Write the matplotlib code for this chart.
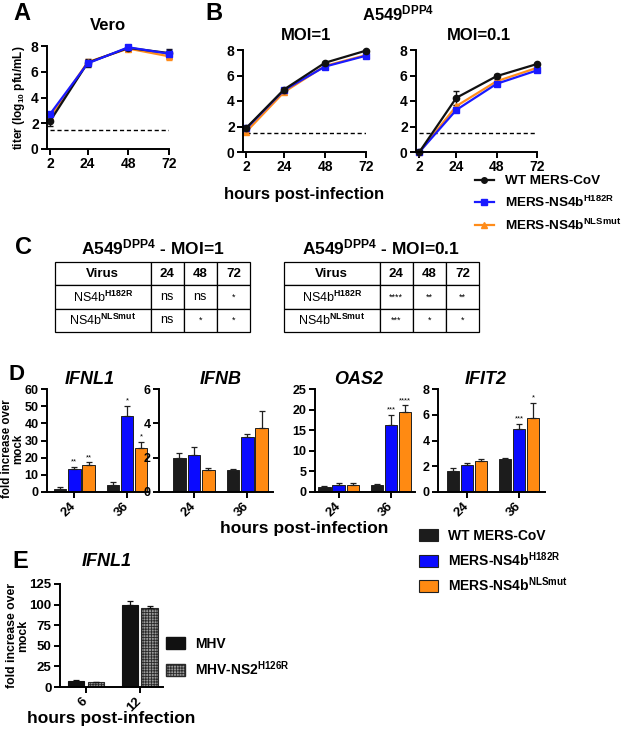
import matplotlib
matplotlib.use('Agg')
import matplotlib.pyplot as plt
import numpy as np
from matplotlib.lines import Line2D
from matplotlib.patches import Patch

plt.rcParams['font.family'] = ['Liberation Sans', 'DejaVu Sans']
plt.rcParams['font.weight'] = 'bold'
plt.rcParams['mathtext.fontset'] = 'custom'
plt.rcParams['mathtext.rm'] = 'Liberation Sans'
plt.rcParams['mathtext.bf'] = 'Liberation Sans:bold'
plt.rcParams['mathtext.it'] = 'Liberation Sans:italic'
plt.rcParams['hatch.linewidth'] = 0.6

# ---------------- data ----------------
hours = [2, 24, 48, 72]
lod = 1.48
series_names = ['WT MERS-CoV', r'MERS-NS4b$^{\mathbf{H182R}}$', r'MERS-NS4b$^{\mathbf{NLSmut}}$']

vero_wt = [2.2, 6.7, 7.85, 7.45]
vero_wt_err = [0.45, 0.3, 0.2, 0.3]
vero_h182r = [2.75, 6.65, 7.9, 7.4]
vero_h182r_err = [0.15, 0.2, 0.15, 0.3]
vero_nls = [2.5, 6.75, 7.8, 7.2]
vero_nls_err = [0.2, 0.25, 0.15, 0.25]

moi1_wt = [1.9, 4.9, 7.0, 7.95]
moi1_wt_err = [0.1, 0.1, 0.08, 0.05]
moi1_h182r = [1.85, 4.85, 6.7, 7.55]
moi1_h182r_err = [0.05, 0.08, 0.08, 0.05]
moi1_nls = [1.6, 4.7, 6.75, 7.6]
moi1_nls_err = [0.05, 0.08, 0.08, 0.05]

moi01_wt = [0.0, 4.25, 5.95, 6.9]
moi01_wt_err = [0.0, 0.55, 0.2, 0.05]
moi01_h182r = [0.0, 3.3, 5.35, 6.4]
moi01_h182r_err = [0.0, 0.1, 0.08, 0.05]
moi01_nls = [0.0, 3.6, 5.55, 6.6]
moi01_nls_err = [0.0, 0.1, 0.08, 0.05]

table_header = ['Virus', '24', '48', '72']
table_viruses = [r'NS4b$^{\mathrm{H182R}}$', r'NS4b$^{\mathrm{NLSmut}}$']
table_moi1 = [['ns', 'ns', '*'], ['ns', '*', '*']]
table_moi01 = [['****', '**', '**'], ['***', '*', '*']]

bar_groups = ['24', '36']
genes = ['IFNL1', 'IFNB', 'OAS2', 'IFIT2']
# per gene: [WT, H182R, NLSmut] x [24h, 36h]
gene_vals = {
    'IFNL1': [[2.0, 4.3], [13.2, 44.5], [16.0, 25.5]],
    'IFNB': [[2.0, 1.27], [2.15, 3.2], [1.28, 3.7]],
    'OAS2': [[1.2, 1.7], [1.6, 16.3], [1.7, 19.4]],
    'IFIT2': [[1.6, 2.58], [2.1, 4.9], [2.4, 5.75]],
}
gene_errs = {
    'IFNL1': [[1.0, 1.6], [1.2, 5.5], [1.2, 3.5]],
    'IFNB': [[0.25, 0.08], [0.5, 0.15], [0.14, 1.0]],
    'OAS2': [[0.2, 0.2], [0.5, 2.5], [0.4, 1.6]],
    'IFIT2': [[0.25, 0.05], [0.15, 0.35], [0.2, 1.2]],
}
gene_stars = {
    'IFNL1': [['', ''], ['**', '*'], ['**', '*']],
    'IFNB': [['', ''], ['', ''], ['', '']],
    'OAS2': [['', ''], ['', '***'], ['', '****']],
    'IFIT2': [['', ''], ['', '***'], ['', '*']],
}
gene_ylim = {'IFNL1': 60, 'IFNB': 6, 'OAS2': 25, 'IFIT2': 8}
gene_ystep = {'IFNL1': 10, 'IFNB': 2, 'OAS2': 5, 'IFIT2': 2}

mhv_groups = ['6', '12']
mhv_names = ['MHV', r'MHV-NS2$^{\mathbf{H126R}}$']
mhv_wt = [7.5, 100.0]
mhv_wt_err = [0.5, 4.0]
mhv_ns2 = [5.5, 95.5]
mhv_ns2_err = [0.8, 3.0]

# ---------------- style ----------------
C_BLACK = '#111111'
C_BLUE = '#1a1aff'
C_ORANGE = '#ff8c1a'
BAR_COLORS = ['#1c1c1c', '#0a0aff', '#ff8a12']

W, H = 625, 729
fig = plt.figure(figsize=(6.25, 7.29), dpi=100)


def add_ax(x0, x1, ytop, ybot):
    return fig.add_axes([x0 / W, 1 - ybot / H, (x1 - x0) / W, (ybot - ytop) / H])


def ftext(x, y, s, **kw):
    fig.text(x / W, 1 - y / H, s, **kw)


def style(ax, labelsize=10):
    for s in ['top', 'right']:
        ax.spines[s].set_visible(False)
    for s in ['left', 'bottom']:
        ax.spines[s].set_linewidth(1.4)
    ax.tick_params(direction='out', length=4, width=1.4, labelsize=labelsize, pad=2)
    for lab in ax.get_xticklabels() + ax.get_yticklabels():
        lab.set_fontweight('bold')


# ---------------- growth curves ----------------
def growth(ax, data):
    for vals, errs, color, marker in data:
        ax.errorbar(hours, vals, yerr=errs, color=color, marker=marker, ms=4.5,
                    lw=1.6, capsize=2.5, elinewidth=1.0, capthick=1.0, clip_on=False,
                    ecolor=C_BLACK if color == C_BLACK else color)
    ax.hlines(lod, hours[0], hours[-1], colors='k', linestyles=(0, (3, 2)), lw=1.0)
    ax.set_xlim(0, 72)
    ax.set_ylim(0, 8)
    ax.set_xticks(hours)
    ax.set_yticks([0, 2, 4, 6, 8])
    style(ax)


axA = add_ax(47, 169, 46, 149)
growth(axA, [(vero_nls, vero_nls_err, C_ORANGE, '^'),
             (vero_wt, vero_wt_err, C_BLACK, 'o'),
             (vero_h182r, vero_h182r_err, C_BLUE, 's')])
axA.set_ylabel(r'titer (log$_{\mathbf{10}}$ pfu/mL)', fontsize=8.5, fontweight='bold', labelpad=3)

axB1 = add_ax(243, 366, 50, 152)
growth(axB1, [(moi1_nls, moi1_nls_err, C_ORANGE, '^'),
              (moi1_h182r, moi1_h182r_err, C_BLUE, 's'),
              (moi1_wt, moi1_wt_err, C_BLACK, 'o')])

axB2 = add_ax(416, 537, 50, 152)
growth(axB2, [(moi01_nls, moi01_nls_err, C_ORANGE, '^'),
              (moi01_h182r, moi01_h182r_err, C_BLUE, 's'),
              (moi01_wt, moi01_wt_err, C_BLACK, 'o')])

ftext(13, 14, 'A', fontsize=17, fontweight='bold', va='center')
ftext(108, 26, 'Vero', fontsize=12, fontweight='bold', ha='center', va='center')
ftext(205, 14, 'B', fontsize=17, fontweight='bold', va='center')
ftext(398, 13, r'A549$^{\mathbf{DPP4}}$', fontsize=12, fontweight='bold', ha='center', va='center')
ftext(306, 36, 'MOI=1', fontsize=12, fontweight='bold', ha='center', va='center')
ftext(479, 36, 'MOI=0.1', fontsize=12, fontweight='bold', ha='center', va='center')
ftext(304, 195, 'hours post-infection', fontsize=12, fontweight='bold', ha='center', va='center')

line_handles = [Line2D([], [], color=C_BLACK, marker='o', ms=4, lw=1.6),
                Line2D([], [], color=C_BLUE, marker='s', ms=4, lw=1.6),
                Line2D([], [], color=C_ORANGE, marker='^', ms=4, lw=1.6)]
fig.legend(line_handles, series_names, loc='upper left', bbox_to_anchor=(475 / W, 1 - 175 / H),
           frameon=False, handlelength=1.4, handletextpad=0.8, labelspacing=0.55,
           borderpad=0, borderaxespad=0, prop={'weight': 'bold', 'size': 9.7})

# ---------------- tables ----------------
ftext(15, 247, 'C', fontsize=17, fontweight='bold', va='center')


def draw_table(x0, x1, ytop, ybot, title, marks):
    ax = add_ax(x0, x1, ytop, ybot)
    ax.axis('off')
    cells = [[v] + m for v, m in zip(table_viruses, marks)]
    tb = ax.table(cellText=cells, colLabels=table_header, cellLoc='center',
                  bbox=[0, 0, 1, 1], colWidths=[0.49, 0.17, 0.17, 0.17])
    tb.auto_set_font_size(False)
    for (r, c), cell in tb.get_celld().items():
        cell.set_linewidth(0.9)
        t = cell.get_text()
        if r == 0:
            t.set_fontweight('bold')
            t.set_fontsize(9.5)
        elif c == 0:
            t.set_fontweight('normal')
            t.set_fontsize(9)
        else:
            txt = t.get_text()
            t.set_fontweight('normal')
            t.set_fontsize(6.5 if '*' in txt else 9)
    ftext((x0 + x1) / 2, 247, title, fontsize=12.5, fontweight='bold', ha='center', va='center')


draw_table(55, 250, 262, 332, r'A549$^{\mathbf{DPP4}}$ - MOI=1', table_moi1)
draw_table(284, 479, 262, 332, r'A549$^{\mathbf{DPP4}}$ - MOI=0.1', table_moi01)

# ---------------- panel D ----------------
ftext(9, 375, 'D', fontsize=16, fontweight='bold', va='center')
d_layout = {'IFNL1': (47, 148, -0.52, 1.40, 90),
            'IFNB': (159, 273, -0.65, 1.48, 221),
            'OAS2': (315, 415, -0.45, 1.46, 359),
            'IFIT2': (438, 545, -0.56, 1.50, 486)}
xg = np.arange(len(bar_groups))
for g in genes:
    x0, x1, xl, xr, tx = d_layout[g]
    ax = add_ax(x0, x1, 389, 492)
    vals = gene_vals[g]
    errs = gene_errs[g]
    top = gene_ylim[g]
    for i in range(3):
        pos = xg + (i - 1) * 0.27
        ax.bar(pos, vals[i], width=0.235, color=BAR_COLORS[i], edgecolor='#202020', lw=0.7,
               yerr=[np.zeros(len(vals[i])), errs[i]], capsize=2.2,
               error_kw=dict(elinewidth=0.9, capthick=0.9, ecolor='#202020'))
        for j in range(len(pos)):
            s = gene_stars[g][i][j]
            if s:
                ax.text(pos[j], vals[i][j] + errs[i][j] + top * 0.015, s, ha='center',
                        va='bottom', fontsize=5.5, fontweight='normal')
    ax.set_xlim(xl, xr)
    ax.set_ylim(0, top)
    ax.set_yticks(np.arange(0, top + 0.001, gene_ystep[g]))
    ax.set_xticks(xg)
    ax.set_xticklabels(bar_groups, rotation=45, ha='right', va='center', rotation_mode='anchor')
    style(ax, labelsize=9)
    ax.tick_params(axis='x', pad=5, labelsize=9.5)
    ftext(tx, 379, g, fontsize=13, fontweight='bold', fontstyle='italic', ha='center', va='center')
    if g == 'IFNL1':
        ax.set_ylabel('fold increase over\nmock', fontsize=8.3, fontweight='bold',
                      linespacing=0.9)
        ax.yaxis.set_label_coords(-0.225, 0.42)

ftext(304, 529, 'hours post-infection', fontsize=12.5, fontweight='bold', ha='center', va='center')
bar_handles = [Patch(facecolor=c, edgecolor='#202020', lw=0.8) for c in BAR_COLORS]
fig.legend(bar_handles, series_names, loc='upper left', bbox_to_anchor=(419 / W, 1 - 529 / H),
           frameon=False, handlelength=1.35, handleheight=0.95, handletextpad=0.75,
           labelspacing=0.5, borderpad=0, borderaxespad=0, prop={'weight': 'bold', 'size': 10})

# ---------------- panel E ----------------
ftext(12, 562, 'E', fontsize=17, fontweight='bold', va='center')
ftext(107, 562, 'IFNL1', fontsize=13, fontweight='bold', fontstyle='italic', ha='center', va='center')
axE = add_ax(60, 163, 584, 687)
xe = np.arange(len(mhv_groups))
axE.bar(xe - 0.18, mhv_wt, width=0.3, color='#111111', edgecolor='#111111', lw=0.8,
        yerr=[np.zeros(2), mhv_wt_err], capsize=2.5,
        error_kw=dict(elinewidth=0.9, capthick=0.9, ecolor='#111111'))
axE.bar(xe + 0.18, mhv_ns2, width=0.3, color='#9a9a9a', edgecolor='#2a2a2a', lw=0.8,
        hatch='++++++', yerr=[np.zeros(2), mhv_ns2_err], capsize=2.5,
        error_kw=dict(elinewidth=0.9, capthick=0.9, ecolor='#111111'))
axE.set_xlim(-0.48, 1.43)
axE.set_ylim(0, 125)
axE.set_yticks([0, 25, 50, 75, 100, 125])
axE.set_xticks(xe)
axE.set_xticklabels(mhv_groups, rotation=45, ha='right', va='center', rotation_mode='anchor')
style(axE, labelsize=9.5)
axE.tick_params(axis='x', pad=5)
axE.set_ylabel('fold increase over\nmock', fontsize=8.8, fontweight='bold', linespacing=0.95)
axE.yaxis.set_label_coords(-0.30, 0.5)
ftext(111, 718, 'hours post-infection', fontsize=12.5, fontweight='bold', ha='center', va='center')

e_handles = [Patch(facecolor='#111111', edgecolor='#111111'),
             Patch(facecolor='#9a9a9a', edgecolor='#2a2a2a', hatch='++++++')]
fig.legend(e_handles, mhv_names, loc='upper left', bbox_to_anchor=(166 / W, 1 - 637 / H),
           frameon=False, handlelength=1.35, handleheight=0.95, handletextpad=0.75,
           labelspacing=0.6, borderpad=0, borderaxespad=0, prop={'weight': 'bold', 'size': 10})

fig.savefig('out.png', dpi=100, facecolor='white')
